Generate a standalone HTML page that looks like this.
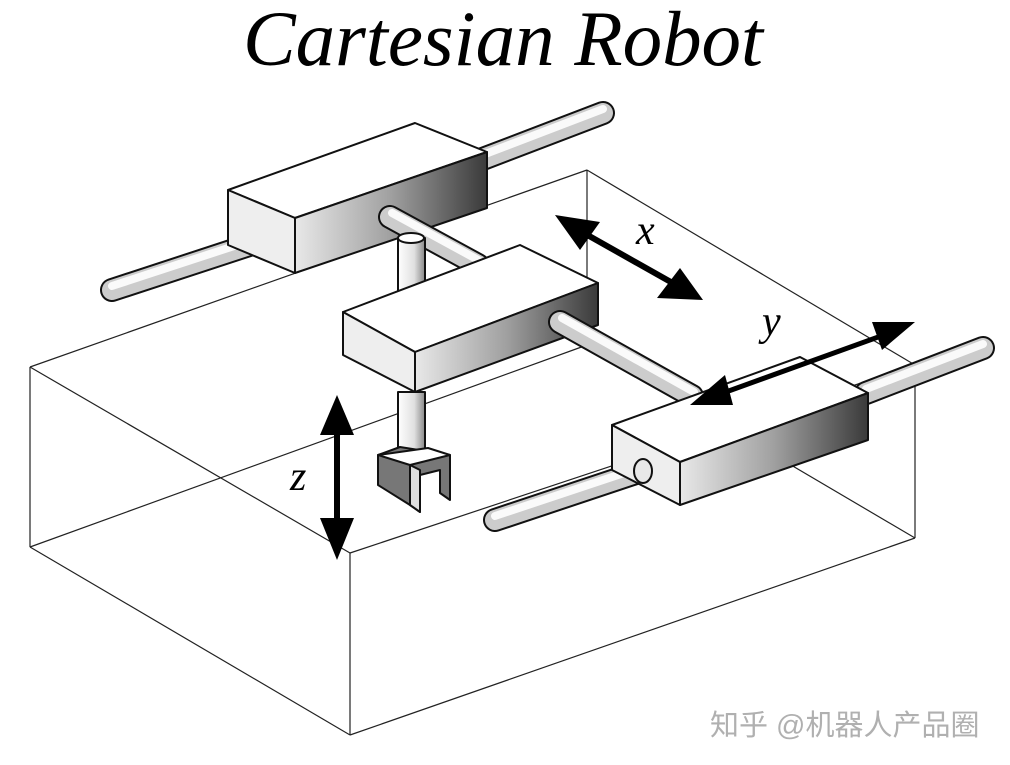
<!DOCTYPE html>
<html><head><meta charset="utf-8"><style>
html,body{margin:0;padding:0;background:#fff;}
svg{display:block;}
</style></head><body>
<svg width="1010" height="765" viewBox="0 0 1010 765" xmlns="http://www.w3.org/2000/svg">
<defs>
<linearGradient id="side" x1="0" y1="0" x2="1" y2="0">
<stop offset="0" stop-color="#e8e8e8"/><stop offset="0.5" stop-color="#a0a0a0"/><stop offset="1" stop-color="#3a3a3a"/></linearGradient>
<linearGradient id="vrod" x1="0" y1="0" x2="1" y2="0">
<stop offset="0" stop-color="#fff"/><stop offset="0.6" stop-color="#e0e0e0"/><stop offset="1" stop-color="#888"/></linearGradient>
</defs>
<text x="503" y="65" text-anchor="middle" font-family="Liberation Serif, serif" font-style="italic" font-size="78" textLength="520" lengthAdjust="spacingAndGlyphs">Cartesian Robot</text>
<g stroke="#222" stroke-width="1.2" fill="none">
<line x1="30" y1="367" x2="587" y2="170"/>
<line x1="587" y1="170" x2="915" y2="365"/>
<line x1="30" y1="367" x2="350" y2="553"/>
<line x1="350" y1="553" x2="915" y2="365"/>
<line x1="30" y1="367" x2="30" y2="547"/>
<line x1="350" y1="553" x2="350" y2="735"/>
<line x1="915" y1="365" x2="915" y2="538"/>
<line x1="30" y1="547" x2="350" y2="735"/>
<line x1="350" y1="735" x2="915" y2="538"/>
<line x1="30" y1="547" x2="587" y2="345"/>
<line x1="587" y1="170" x2="587" y2="345"/>
<line x1="587" y1="345" x2="915" y2="538"/>
</g>
<g stroke-linecap="round" fill="none">
<!-- upper rods -->
<line x1="112" y1="290" x2="280" y2="235" stroke="#111" stroke-width="24"/>
<line x1="112" y1="290" x2="280" y2="235" stroke="#ccc" stroke-width="20"/>
<line x1="112" y1="286" x2="280" y2="231" stroke="#fafafa" stroke-width="8"/>
<line x1="480" y1="160" x2="603" y2="113" stroke="#111" stroke-width="24"/>
<line x1="480" y1="160" x2="603" y2="113" stroke="#ccc" stroke-width="20"/>
<line x1="480" y1="156" x2="603" y2="109" stroke="#fafafa" stroke-width="8"/>
</g>
<g stroke="#111" stroke-width="2" stroke-linejoin="round">
<!-- top block -->
<polygon points="228,190 415,123 487,152 295,218" fill="#fff"/>
<polygon points="228,190 295,218 295,273 228,245" fill="#eee"/>
<polygon points="295,218 487,152 487,208 295,273" fill="url(#side)"/>
</g>
<g stroke-linecap="round" fill="none">
<line x1="390" y1="217" x2="478" y2="265" stroke="#111" stroke-width="24"/>
<line x1="390" y1="217" x2="478" y2="265" stroke="#ccc" stroke-width="20"/>
<line x1="392" y1="213" x2="480" y2="261" stroke="#fafafa" stroke-width="8"/>
</g>
<g stroke="#111" stroke-width="2" stroke-linejoin="round">
<rect x="398" y="238" width="27" height="90" fill="url(#vrod)"/>
<ellipse cx="411" cy="238" rx="13" ry="5" fill="#fff"/>
<!-- middle block -->
<polygon points="343,312 520,245 598,283 415,352" fill="#fff"/>
<polygon points="343,312 415,352 415,392 343,355" fill="#eee"/>
<polygon points="415,352 598,283 598,325 415,392" fill="url(#side)"/>
</g>
<g stroke-linecap="round" fill="none">
<line x1="560" y1="322" x2="692" y2="396" stroke="#111" stroke-width="24"/>
<line x1="560" y1="322" x2="692" y2="396" stroke="#ccc" stroke-width="20"/>
<line x1="562" y1="318" x2="694" y2="392" stroke="#fafafa" stroke-width="8"/>
<line x1="495" y1="520" x2="645" y2="470" stroke="#111" stroke-width="24"/>
<line x1="495" y1="520" x2="645" y2="470" stroke="#ccc" stroke-width="20"/>
<line x1="495" y1="516" x2="645" y2="466" stroke="#fafafa" stroke-width="8"/>
<line x1="866" y1="393" x2="983" y2="348" stroke="#111" stroke-width="24"/>
<line x1="866" y1="393" x2="983" y2="348" stroke="#ccc" stroke-width="20"/>
<line x1="866" y1="389" x2="983" y2="344" stroke="#fafafa" stroke-width="8"/>
</g>
<g stroke="#111" stroke-width="2" stroke-linejoin="round">
<rect x="398" y="392" width="27" height="62" fill="url(#vrod)"/>
<polygon points="378,455 400,447 450,455 450,500 440,493 440,470 420,475 420,512 410,505 378,485" fill="#777"/>
<polygon points="378,455 410,465 450,455 428,448" fill="#fff"/>
<polygon points="410,465 420,470 420,512 410,505" fill="#ddd"/>
<!-- right block -->
<polygon points="612,425 800,357 868,393 680,462" fill="#fff"/>
<polygon points="612,425 680,462 680,505 612,470" fill="#eee"/>
<polygon points="680,462 868,393 868,440 680,505" fill="url(#side)"/>
<ellipse cx="643" cy="471" rx="9" ry="12" fill="#e8e8e8"/>
</g>
<g fill="#000" stroke="#000">
<line x1="575" y1="228" x2="685" y2="290" stroke-width="6"/>
<polygon points="555,215 600,222 580,250" stroke="none"/>
<polygon points="703,300 657,298 680,268" stroke="none"/>
<line x1="712" y1="397" x2="892" y2="332" stroke-width="5"/>
<polygon points="690,405 725,375 733,405" stroke="none"/>
<polygon points="915,322 872,322 882,350" stroke="none"/>
<line x1="337" y1="420" x2="337" y2="535" stroke-width="6"/>
<polygon points="337,395 320,435 354,435" stroke="none"/>
<polygon points="337,560 320,518 354,518" stroke="none"/>
</g>
<g font-family="Liberation Serif, serif" font-style="italic" font-size="42" fill="#000">
<text x="636" y="244">x</text>
<text x="762" y="335">y</text>
<text x="290" y="490">z</text>
</g>
<text x="710" y="735" font-family="Liberation Sans, Noto Sans CJK SC, sans-serif" font-size="29" fill="#b0b0b0">知乎 @机器人产品圈</text>
</svg>
</body></html>
